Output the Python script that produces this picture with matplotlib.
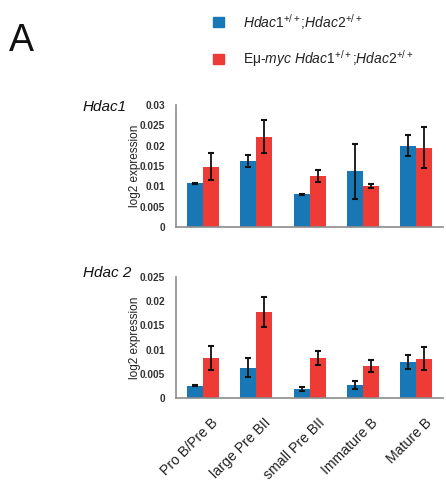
import matplotlib
matplotlib.use("Agg")
import matplotlib.pyplot as plt
import matplotlib.transforms as mtransforms
import numpy as np

plt.rcParams['font.family'] = ['Liberation Sans', 'DejaVu Sans']
plt.rcParams['mathtext.fontset'] = 'custom'
plt.rcParams['mathtext.rm'] = 'Liberation Sans'
plt.rcParams['mathtext.it'] = 'Liberation Sans:italic'
plt.rcParams['mathtext.bf'] = 'Liberation Sans:bold'

categories = ["Pro B/Pre B", "large Pre BII", "small Pre BII", "Immature B", "Mature B"]

hdac1_wt = [0.0107, 0.0162, 0.0080, 0.0137, 0.0200]
hdac1_wt_err = [0.0001, 0.0015, 0.0002, 0.0068, 0.0025]
hdac1_myc = [0.0148, 0.0222, 0.0126, 0.0101, 0.0195]
hdac1_myc_err = [0.0033, 0.0040, 0.0015, 0.0005, 0.0050]

hdac2_wt = [0.0025, 0.0063, 0.0018, 0.0027, 0.0075]
hdac2_wt_err = [0.0001, 0.0020, 0.0004, 0.0009, 0.0014]
hdac2_myc = [0.0083, 0.0178, 0.0083, 0.0066, 0.0081]
hdac2_myc_err = [0.0025, 0.0031, 0.0014, 0.0012, 0.0024]

top_ticks = [0, 0.005, 0.01, 0.015, 0.02, 0.025, 0.03]
top_ticklabels = ["0", "0.005", "0.01", "0.015", "0.02", "0.025", "0.03"]
bot_ticks = [0, 0.005, 0.01, 0.015, 0.02, 0.025]
bot_ticklabels = ["0", "0.005", "0.01", "0.015", "0.02", "0.025"]

blue = "#1878b6"
red = "#ee3b36"
spine = "#8c8c8c"

fig = plt.figure(figsize=(4.46, 4.86), dpi=100)
ax1 = fig.add_axes([0.395, 0.533, 0.598, 0.251])
ax2 = fig.add_axes([0.395, 0.181, 0.598, 0.249])

x = np.arange(len(categories))
w = 0.3

def draw(ax, wt, wte, myc, myce, ticks, labels, ymax):
    ax.bar(x - w/2, wt, w, color=blue, zorder=2)
    ax.bar(x + w/2, myc, w, color=red, zorder=2)
    ax.errorbar(x - w/2, wt, yerr=wte, fmt='none', ecolor='#111111',
                elinewidth=1.3, capsize=2.5, capthick=1.5, zorder=3)
    ax.errorbar(x + w/2, myc, yerr=myce, fmt='none', ecolor='#111111',
                elinewidth=1.3, capsize=2.5, capthick=1.5, zorder=3)
    ax.set_xlim(-0.5, len(categories) - 0.5)
    ax.set_ylim(0, ymax)
    ax.set_yticks(ticks)
    ax.set_yticklabels(labels, fontsize=7.3, fontweight='bold', color='#333333')
    for s in ['top', 'right']:
        ax.spines[s].set_visible(False)
    for s in ['left', 'bottom']:
        ax.spines[s].set_color(spine)
        ax.spines[s].set_linewidth(1.2)
    ax.tick_params(axis='both', length=0, pad=8)
    ax.set_ylabel("log2 expression", fontsize=8.5, color='#222222', labelpad=-1)

draw(ax1, hdac1_wt, hdac1_wt_err, hdac1_myc, hdac1_myc_err, top_ticks, top_ticklabels, 0.03)
draw(ax2, hdac2_wt, hdac2_wt_err, hdac2_myc, hdac2_myc_err, bot_ticks, bot_ticklabels, 0.025)

ax1.set_xticks([])
ax2.set_xticks(x)
ax2.set_xticklabels(categories, rotation=45, ha='right', rotation_mode='anchor',
                    fontsize=10.2, color='#222222')
ax2.tick_params(axis='x', pad=11)
offset = mtransforms.ScaledTranslation(8/100, -2/100, fig.dpi_scale_trans)
for lbl in ax2.get_xticklabels():
    lbl.set_transform(lbl.get_transform() + offset)

fig.text(0.186, 0.78, "Hdac1", fontsize=11, style='italic', ha='left', va='center', color='#111111')
fig.text(0.186, 0.438, "Hdac 2", fontsize=11, style='italic', ha='left', va='center', color='#111111')

fig.text(0.02, 0.915, "A", fontsize=27, ha='left', va='center', color='#111111')

# legend
fig.patches.append(plt.Rectangle((0.478, 0.944), 0.024, 0.02, transform=fig.transFigure,
                                 color=blue, figure=fig))
fig.patches.append(plt.Rectangle((0.478, 0.869), 0.024, 0.02, transform=fig.transFigure,
                                 color=red, figure=fig))
fig.text(0.545, 0.955, r"$\mathit{Hdac1}^{+/+}$;$\mathit{Hdac2}^{+/+}$", fontsize=10,
         ha='left', va='center', color='#222222')
fig.text(0.545, 0.879, r"Eμ-$\mathit{myc}$ $\mathit{Hdac1}^{+/+}$;$\mathit{Hdac2}^{+/+}$", fontsize=10,
         ha='left', va='center', color='#222222')

fig.savefig("out.png", dpi=100)
